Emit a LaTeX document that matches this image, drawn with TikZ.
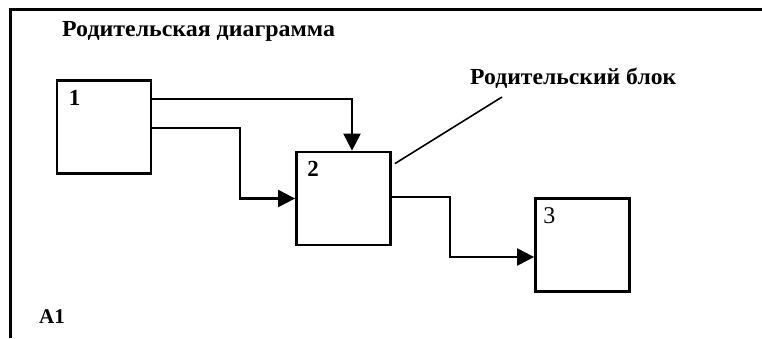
\documentclass[tikz,border=0pt]{standalone}
\usepackage{fontspec}
\setmainfont{Liberation Serif}
\usetikzlibrary{arrows.meta}
\begin{document}
\begin{tikzpicture}[x=1pt,y=-1pt,
  blk/.style={draw,line width=2.8pt,minimum width=94pt,minimum height=93pt,inner sep=0pt},
  conn/.style={line width=2.2pt},
  arr/.style={conn,-{Triangle[length=17pt,width=17pt]}},
  lbl/.style={font=\bfseries\fontsize{23}{25}\selectfont,inner sep=0pt},
  num/.style={font=\bfseries\fontsize{23}{25}\selectfont,inner sep=0pt,anchor=north west}]
\useasboundingbox (0,0) rectangle (762,338);
\fill[white] (0,0) rectangle (762,338);
% frame
\coordinate (ftr) at (762,9.5);
\coordinate (ftl) at (10.5,9.5);
\coordinate (fbl) at (10.5,338);
\draw[line width=3pt] (ftr) -- (ftl) -- (fbl);
% title
\node[lbl,anchor=west] (title) at (62,31) {\scalebox{1.04}[1]{Родительская диаграмма}};
% blocks
\node[blk] (b1) at (104,127) {};
\node[blk] (b2) at (343.5,198.5) {};
\node[blk] (b3) at (582.5,245) {};
\node[num] (n1) at ([xshift=13pt,yshift=-11pt]b1.north west) {1};
\node[num] (n2) at ([xshift=12pt,yshift=-10pt]b2.north west) {2};
\node[num,font=\fontsize{24}{26}\selectfont] (n3) at ([xshift=9pt,yshift=-10pt]b3.north west) {3};
% connectors
\coordinate (c1a) at (352,99);
\draw[arr] ([yshift=28pt]b1.east) -- (c1a) -- (b2.north -| c1a);
\coordinate (c1b) at (240,128);
\draw[arr] ([yshift=-1pt]b1.east) -- (c1b) |- (b2.west);
\coordinate (c2a) at (450,197);
\coordinate (c2b) at (450,257);
\draw[arr] ([yshift=1.5pt]b2.east) -- (c2a) -- (c2b) -- (b3.west |- c2b);
% parent block label
\node[lbl,anchor=west] (pb) at (470,78) {\scalebox{1.03}[1]{Родительский блок}};
\coordinate (lead) at (502,97);
\draw[line width=1.6pt] ([xshift=3pt,yshift=-13pt]b2.north east) -- (lead);
% A1
\node[lbl,anchor=west,font=\bfseries\fontsize{21}{23}\selectfont] (a1) at (39,317) {A1};
\end{tikzpicture}
\end{document}
